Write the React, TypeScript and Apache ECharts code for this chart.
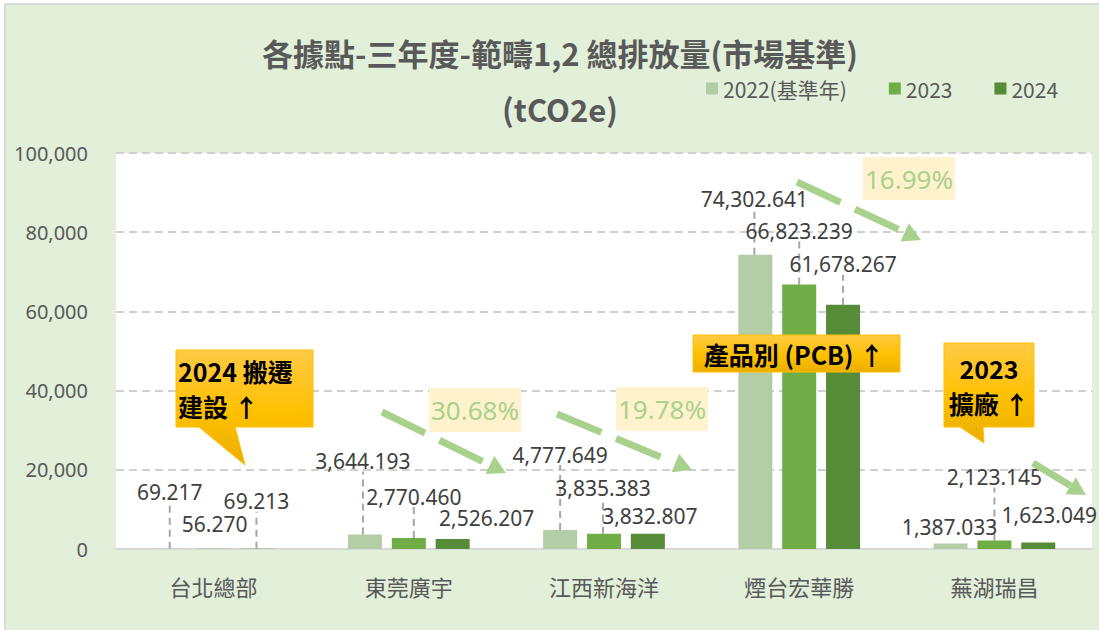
import React, { useEffect, useRef } from "react";
import * as echarts from "echarts";

const categories = ["台北總部", "東莞廣宇", "江西新海洋", "煙台宏華勝", "蕪湖瑞昌"];
const seriesNames = ["2022(基準年)", "2023", "2024"];
const values2022 = [69.217, 3644.193, 4777.649, 74302.641, 1387.033];
const values2023 = [56.27, 2770.46, 3835.383, 66823.239, 2123.145];
const values2024 = [69.213, 2526.207, 3832.807, 61678.267, 1623.049];
const yTicks = { min: 0, max: 100000, interval: 20000 };
const percentLabels = ["30.68%", "19.78%", "16.99%"];
const callout1Lines = ["2024 搬遷", "建設 ↑"];
const callout2Text = "產品別 (PCB) ↑";
const callout3Lines = ["2023", "擴廠 ↑"];

const colors = ["#b3cda6", "#70ad47", "#568b37"];

// label offsets (dx, dy) relative to default "top" position, per series per category
const labelOffsets = [
  [[0, -41], [-2, -58], [0, -60], [-1, -40], [-1, -1]],
  [[1, -9], [5, -26], [-1, -30], [0, -38], [0, -48]],
  [[-1, -32], [34, -5], [2, -2], [0, -25], [11, -12]],
];
const leaderShown = [
  [true, true, true, true, false],
  [false, true, true, true, true],
  [true, false, false, true, false],
];

const fmt = (v: number) =>
  v.toLocaleString("en-US", { minimumFractionDigits: 3, maximumFractionDigits: 3 });

function arrow(x1: number, y1: number, tx: number, ty: number) {
  const dx = tx - x1, dy = ty - y1;
  const len = Math.sqrt(dx * dx + dy * dy);
  const ux = dx / len, uy = dy / len;
  const L = 18, W = 10;
  const bx = tx - ux * L, by = ty - uy * L;
  const nx = -uy, ny = ux;
  const col = "#a9d18e";
  return [
    {
      type: "line",
      silent: true,
      shape: { x1, y1, x2: bx, y2: by },
      style: { stroke: col, lineWidth: 7, lineDash: [48, 16] },
      z: 10,
    },
    {
      type: "polygon",
      silent: true,
      shape: { points: [[tx, ty], [bx + nx * W, by + ny * W], [bx - nx * W, by - ny * W]] },
      style: { fill: col },
      z: 10,
    },
  ];
}

const gold = {
  type: "linear", x: 0, y: 0, x2: 0, y2: 1,
  colorStops: [
    { offset: 0, color: "#ffca45" },
    { offset: 0.55, color: "#ffc000" },
    { offset: 1, color: "#eaae00" },
  ],
};

function pctBox(x: number, y: number, w: number, h: number, text: string) {
  return [
    { type: "rect", silent: true, shape: { x, y, width: w, height: h }, style: { fill: "#fff2cc" }, z: 9 },
    {
      type: "text", silent: true, x: x + w / 2, y: y + h / 2,
      style: { text, fill: "#a9d18e", font: '26px "Noto Sans", "Open Sans", sans-serif', align: "center", verticalAlign: "middle" },
      z: 11,
    },
  ];
}

function calloutText(x: number, y: number, text: string, size: number, align: string) {
  return {
    type: "text", silent: true, z: 13, x, y,
    style: { text, fill: "#000", font: `bold ${size}px "Noto Sans CJK TC", sans-serif`, align, verticalAlign: "middle" },
  };
}

export default function App() {
  const ref = useRef<HTMLDivElement>(null);
  useEffect(() => {
    if (!ref.current) return;
    const chart = echarts.init(ref.current, undefined, { renderer: "svg" });
    const all = [values2022, values2023, values2024];
    const series = all.map((vals, si) => ({
      name: seriesNames[si],
      type: "bar",
      data: vals.map((v, i) => ({ value: v, labelLine: { show: leaderShown[si][i] } })),
      barWidth: 34,
      barGap: "29%",
      itemStyle: { color: colors[si] },
      label: {
        show: true,
        position: "top",
        distance: 5,
        color: "#404040",
        fontSize: 21,
        fontFamily: '"Noto Sans", "Open Sans", sans-serif',
        formatter: (p: any) => fmt(p.value),
      },
      labelLayout: (p: any) => {
        const o = labelOffsets[si][p.dataIndex];
        return { dx: o[0], dy: o[1] };
      },
      labelLine: {
        show: true,
        lineStyle: { color: "#a6a6a6", width: 2, type: [7, 5] },
      },
    }));

    const graphics: any[] = [
      {
        type: "rect", silent: true, z: -10,
        shape: { x: 5, y: 4, width: 1100, height: 630 },
        style: { fill: "#e2efd9", stroke: "#d9d9d9", lineWidth: 2 },
      },
      // callout 1
      {
        type: "polygon", silent: true, z: 12,
        shape: { points: [[176, 350], [313, 350], [313, 427], [235, 427], [245, 465], [199, 427], [176, 427]] },
        style: { fill: gold, stroke: "#ffc000", lineWidth: 1 },
      },
      calloutText(178, 371, callout1Lines[0], 25, "left"),
      calloutText(178, 406, callout1Lines[1], 25, "left"),
      // callout 2
      {
        type: "rect", silent: true, z: 12,
        shape: { x: 693, y: 335, width: 207, height: 37 },
        style: { fill: gold, stroke: "#ffc000", lineWidth: 1 },
      },
      calloutText(794, 354, callout2Text, 25, "center"),
      // callout 3
      {
        type: "polygon", silent: true, z: 12,
        shape: { points: [[944, 343], [1034, 343], [1034, 427], [983, 427], [984, 443], [960, 427], [944, 427]] },
        style: { fill: gold, stroke: "#ffc000", lineWidth: 1 },
      },
      calloutText(989, 368, callout3Lines[0], 25, "center"),
      calloutText(989, 403, callout3Lines[1], 25, "center"),
      ...pctBox(429, 388, 92, 44, percentLabels[0]),
      ...pctBox(616, 387, 92, 44, percentLabels[1]),
      ...pctBox(863, 157, 92, 43, percentLabels[2]),
      ...arrow(382, 412, 506, 473),
      ...arrow(557, 414, 692, 470),
      ...arrow(797, 182, 921, 240),
      ...arrow(1033, 463, 1086, 495),
    ];

    chart.setOption({
      animation: false,
      backgroundColor: "#ffffff",
      title: {
        text: "各據點-三年度-範疇1,2 總排放量(市場基準)\n(tCO2e)",
        left: 555,
        top: 19,
        textAlign: "center",
        textStyle: {
          color: "#595959",
          fontSize: 31,
          fontWeight: "bold",
          fontFamily: '"Noto Sans CJK TC", sans-serif',
          lineHeight: 56,
        },
      },
      legend: {
        data: seriesNames,
        left: 701,
        top: 73,
        itemWidth: 12,
        itemHeight: 12,
        itemGap: 42,
        icon: "rect",
        textStyle: { color: "#595959", fontSize: 21, fontFamily: '"Noto Sans CJK TC", sans-serif' },
      },
      grid: {
        left: 116,
        right: 7,
        top: 153,
        bottom: 81,
        show: true,
        backgroundColor: "#ffffff",
        borderWidth: 0,
      },
      xAxis: {
        type: "category",
        data: categories,
        axisLine: { lineStyle: { color: "#d9d9d9", width: 2 } },
        axisTick: { show: false },
        axisLabel: { color: "#595959", fontSize: 22, margin: 26, fontFamily: '"Noto Sans CJK TC", sans-serif' },
      },
      yAxis: {
        type: "value",
        min: yTicks.min,
        max: yTicks.max,
        interval: yTicks.interval,
        axisLine: { show: false },
        axisTick: { show: false },
        axisLabel: {
          color: "#595959",
          fontSize: 20,
          margin: 28,
          fontFamily: '"Noto Sans", "Open Sans", sans-serif',
          formatter: (v: number) => v.toLocaleString("en-US"),
        },
        splitLine: { lineStyle: { color: "#d0d0d0", width: 2, type: [8, 5] } },
      },
      series,
      graphic: graphics,
    });
    return () => chart.dispose();
  }, []);
  return <div ref={ref} style={{ position: "absolute", left: 0, top: 0, width: 1099, height: 630 }} />;
}
